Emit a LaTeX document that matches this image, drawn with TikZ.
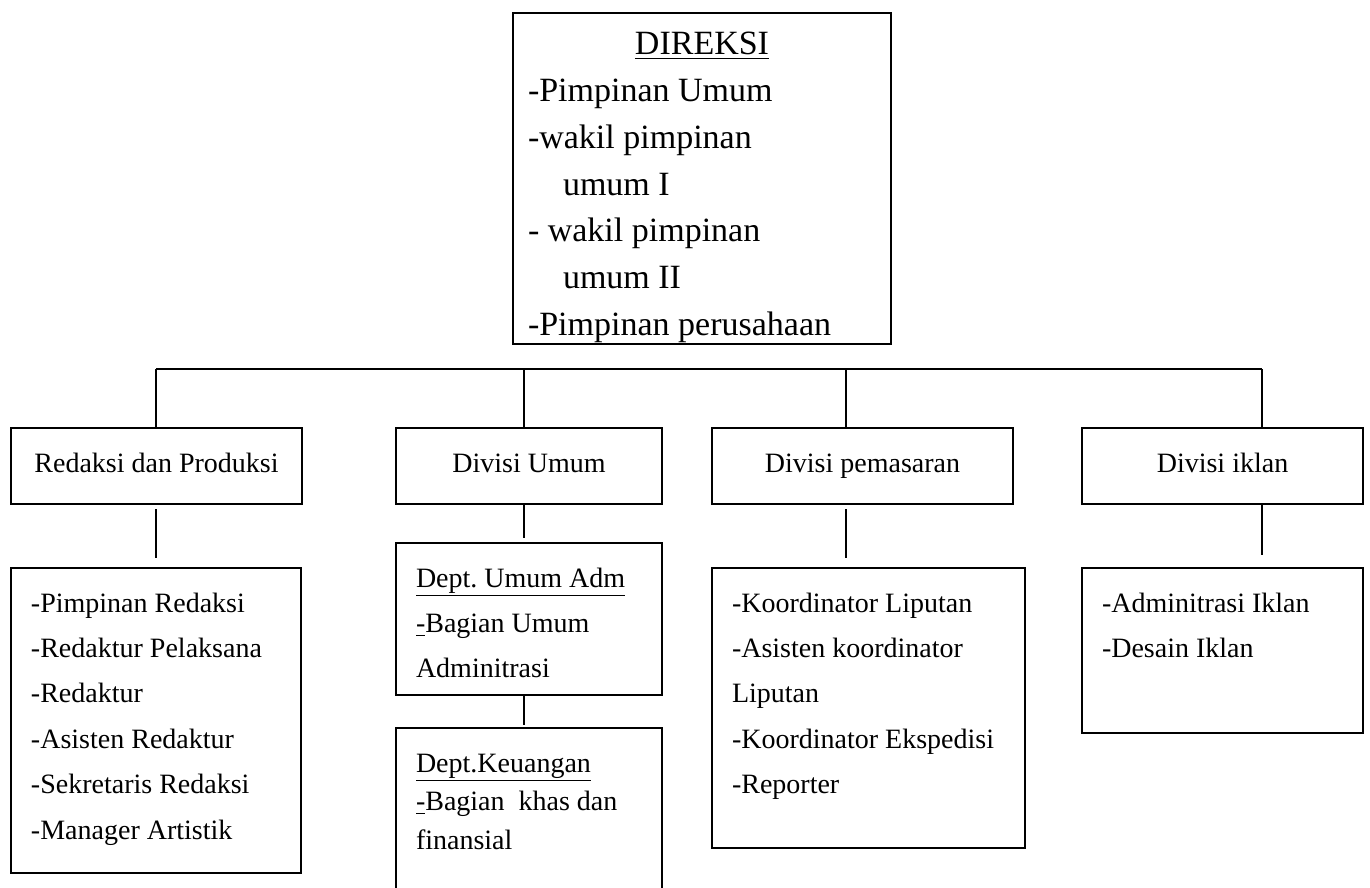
\documentclass[tikz,border=0pt]{standalone}
\usepackage{fontspec}
\setmainfont{Liberation Serif}
\usepackage{tikz}
\usetikzlibrary{positioning}
\frenchspacing
\newcommand{\headfont}{\fontsize{17}{23.35}\selectfont}
\newcommand{\listfont}{\fontsize{14}{22.7}\selectfont}
\tikzset{
  unit/.style={draw, line width=1pt, anchor=north west, inner sep=0pt,
               font=\listfont, minimum height=38pt,
               text height=9.5pt, text depth=3pt},
  list/.style={draw, line width=1pt, anchor=north west, align=flush left,
               inner xsep=10pt, inner ysep=0pt, font=\listfont,
               text height=22pt},
  link/.style={line width=0.8pt},
}

\begin{document}
\begin{tikzpicture}[x=0.5pt, y=-0.5pt]
  \useasboundingbox (0,0) rectangle (1370,888);
  \clip (0,0) rectangle (1370,888);
  % board of directors
  \node[list, font=\headfont, inner xsep=7.5pt, text width=174pt,
        text height=21pt, text depth=144.5pt] (direksi) at (512,12)
    {\makebox[174pt]{\underline{DIREKSI}}\\
     -Pimpinan Umum\\
     -wakil pimpinan\\
     \hspace*{17.5pt}umum I\\
     - wakil pimpinan\\
     \hspace*{17.5pt}umum II\\
     -Pimpinan perusahaan};
  % divisions
  \node[unit, minimum width=145.5pt] (redaksi) at (10,427) {Redaksi dan Produksi};
  \node[unit, minimum width=133pt] (umum) at (395,427) {Divisi Umum};
  \node[unit, minimum width=150.5pt] (pemasaran) at (711,427) {Divisi pemasaran};
  \node[unit, minimum width=140.5pt] (iklan) at (1081,427) {Divisi iklan};
  % staff lists
  \node[list, text width=125pt, text depth=130.5pt] (redsub) at (10,567)
    {-Pimpinan Redaksi\\ -Redaktur Pelaksana\\ -Redaktur\\
     -Asisten Redaktur\\ -Sekretaris Redaksi\\ -Manager Artistik};
  \node[list, text width=113pt, text depth=54pt] (adm) at (395,542)
    {\underline{Dept. Umum Adm}\\ \underline{-}Bagian Umum\\ Adminitrasi};
  \node[list, text width=113pt, text depth=72pt,
        font=\fontsize{14}{19.3}\selectfont] (keu) at (395,727)
    {\underline{Dept.Keuangan}\\ \underline{-}Bagian\ \ khas dan\\ finansial};
  \node[list, text width=136.5pt, text depth=118pt] (pemsub) at (711,567)
    {-Koordinator Liputan\\ -Asisten koordinator\\ Liputan\\
     -Koordinator Ekspedisi\\ -Reporter};
  \node[list, text width=120.5pt, text depth=60.5pt] (iklsub) at (1081,567)
    {-Adminitrasi Iklan\\ -Desain Iklan};
  % bus line
  \coordinate (bus1) at (156,369);
  \coordinate (bus2) at (524,369);
  \coordinate (bus3) at (846,369);
  \coordinate (bus4) at (1262,369);
  \draw[link] (bus1) -- (bus4);
  \foreach \b/\n in {bus1/redaksi, bus2/umum, bus3/pemasaran, bus4/iklan}
    \draw[link] (\b) -- (\b |- \n.north);
  % links down to the lists
  \draw[link, shorten <=2pt, shorten >=4.5pt] (bus1 |- redaksi.south) -- (bus1 |- redsub.north);
  \draw[link, shorten >=2pt] (bus2 |- umum.south) -- (bus2 |- adm.north);
  \draw[link, shorten <=2pt, shorten >=4.5pt] (bus3 |- pemasaran.south) -- (bus3 |- pemsub.north);
  \draw[link, shorten >=6pt] (bus4 |- iklan.south) -- (bus4 |- iklsub.north);
  \draw[link, shorten >=1pt] (bus2 |- adm.south) -- (bus2 |- keu.north);
\end{tikzpicture}
\end{document}
